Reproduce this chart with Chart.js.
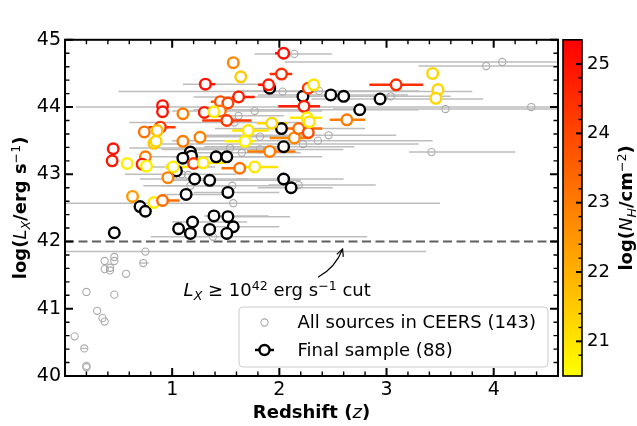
<!DOCTYPE html>
<html>
<head>
<meta charset="utf-8">
<script src="https://cdn.jsdelivr.net/npm/chart.js@4/dist/chart.umd.min.js"></script>
<style>
  html, body { margin: 0; padding: 0; background: #fff; }
  canvas { display: block; }
</style>
</head>
<body>
<canvas id="c" width="637" height="426"></canvas>
<script>
// ---- All X-ray sources in CEERS: redshift, log L_X, redshift error range ----
const allZ   = [0.09,0.18,0.20,0.20,0.20,0.30,0.35,0.37,0.37,0.37,0.42,0.42,0.46,0.46,0.46,0.57,0.73,0.75,
                1.38,1.57,1.17,1.56,2.18,1.09,1.15,0.98,1.65,3.42,1.82,1.54,2.22,2.36,1.82,2.46,1.58,1.62,1.77,
                3.55,4.35,3.04,2.03,2.37,3.93,4.08,2.14,
                1.21,1.35,2.04,2.11,1.52,1.13,2.04,2.02,1.39,1.52,1.19,1.57,2.48,2.94,2.75,1.51,1.41,1.31,1.62];
const allLx  = [40.59,40.41,40.13,40.15,41.25,40.97,40.86,40.81,41.71,41.59,41.61,41.57,41.77,41.71,41.21,41.52,41.68,41.85,
                42.07,42.57,42.83,42.83,42.84,43.00,42.99,43.11,43.32,43.33,43.37,43.39,43.45,43.50,43.56,43.58,43.77,43.87,43.94,
                43.97,44.00,44.16,44.23,44.24,44.61,44.67,44.79,
                42.93,42.91,42.93,42.80,42.73,42.70,43.41,43.68,42.38,42.37,42.29,42.22,44.18,44.12,43.96,43.26,43.26,44.34,44.15];
const allZLo = [null,0.15,null,null,null,null,null,null,null,null,null,null,null,null,null,null,0.70,0.01,
                0.80,0.00,0.90,0.73,1.90,0.56,null,0.70,1.20,3.21,0.90,0.60,0.90,1.00,1.30,1.20,0.60,1.26,1.00,
                2.50,0.10,2.20,0.50,1.60,3.30,2.05,1.77,
                0.70,1.00,1.60,1.80,1.20,0.90,1.30,1.40,1.30,1.40,1.00,1.30,1.80,2.30,1.20,1.00,0.80,1.10,1.20];
const allZHi = [null,0.21,null,null,null,null,null,null,null,null,null,null,null,null,null,null,0.78,3.37,
                2.82,3.50,1.60,2.20,2.90,1.60,null,1.40,2.20,4.20,2.60,2.00,3.30,3.43,2.30,3.09,2.30,2.04,2.40,
                4.60,4.60,3.60,3.80,3.30,4.60,4.60,2.49,
                1.70,2.20,2.60,2.50,2.00,1.50,2.70,2.80,1.90,2.10,1.70,2.00,3.20,3.90,3.30,2.40,1.90,1.88,2.20];

// ---- Final sample: redshift, log L_X, log N_H (null = no N_H), redshift error range ----
const finZ   = [2.04,1.57,1.64,1.31,2.02,1.90,2.27,2.32,2.23,3.09,2.63,1.62,1.45,1.52,1.45,1.30,1.39,1.51,0.91,0.91,
                1.10,0.89,0.74,0.86,0.83,0.85,1.10,1.26,0.45,0.44,0.58,0.75,0.72,0.76,1.20,1.01,1.29,0.96,0.63,0.83,
                0.91,1.63,1.77,1.71,1.68,1.91,2.14,2.18,2.27,2.26,2.28,1.93,3.43,3.48,3.46,
                0.46,1.06,1.19,1.17,1.35,1.39,1.52,1.57,1.51,1.17,1.18,1.10,1.41,1.51,1.21,1.35,1.13,1.52,2.04,2.11,
                2.04,2.02,1.91,2.22,2.48,2.60,2.94,2.75,1.04,0.70,0.75];
const finLx  = [44.80,44.66,44.45,44.34,44.49,44.33,44.28,44.33,44.01,44.33,43.81,44.15,44.08,44.06,43.94,43.92,43.93,43.80,44.02,43.93,
                43.90,43.70,43.63,43.65,43.46,43.49,43.49,43.55,43.38,43.20,43.16,43.26,43.15,43.12,43.16,43.11,43.17,42.95,42.67,42.58,
                42.61,43.09,43.11,43.65,43.49,43.34,43.54,43.68,43.62,43.84,43.78,43.76,44.50,44.26,44.13,
                42.13,42.19,42.29,42.12,42.18,42.38,42.37,42.22,42.12,43.33,43.27,43.24,43.26,43.26,42.93,42.91,42.70,42.73,42.93,42.80,
                43.41,43.68,44.28,44.16,44.18,44.16,44.12,43.96,43.05,42.52,42.45];
const finNH  = [25.1,22.8,21.5,25.0,24.5,24.8,24.2,21.0,24.8,24.5,23.0,24.8,23.8,24.0,23.3,24.9,20.9,24.3,25.0,25.0,
                23.0,24.3,23.2,21.7,21.6,21.3,23.0,22.9,25.0,24.9,20.8,23.0,24.7,20.8,24.2,20.9,20.9,22.9,22.4,20.9,
                23.3,23.2,21.0,21.0,20.8,23.0,22.8,23.3,23.9,20.9,21.0,21.3,21.3,21.3,21.3,
                null,null,null,null,null,null,null,null,null,null,null,null,null,null,null,null,null,null,null,null,
                null,null,null,null,null,null,null,null,null,null,null];
const finZLo = [1.96,null,null,1.25,1.91,1.80,null,null,1.99,2.84,2.47,1.56,1.36,null,null,null,1.30,1.28,null,null,
                null,0.78,null,null,null,null,null,null,null,null,null,null,null,null,null,0.93,1.24,null,null,null,
                0.86,1.46,1.68,1.56,1.49,1.70,1.91,2.08,null,2.10,null,1.79,null,null,null];
const finZHi = [2.10,null,null,1.40,2.12,1.95,null,null,2.38,3.34,2.80,1.77,1.52,null,null,null,1.45,1.74,null,null,
                null,1.03,null,null,null,null,null,null,null,null,null,null,null,null,null,1.15,1.50,null,null,null,
                1.07,1.68,1.99,1.90,1.77,2.15,2.29,2.40,null,2.40,null,2.08,null,null,null];

// ---- Axis ranges and labelled ticks ----
const zRange   = [0, 4.6];
const lxRange  = [40, 45];
const nhRange  = [20.5, 25.35];
const zLabels  = [1, 2, 3, 4];
const lxLabels = [40, 41, 42, 43, 44, 45];
const nhLabels = [21, 22, 23, 24, 25];
const lxCut = 42;

const FONT = '"DejaVu Sans", sans-serif';

// autumn_r colour map: yellow at the low end, red at the high end
function nhColor(v) {
  if (v === null || v === undefined) return '#000000';
  const t = Math.min(1, Math.max(0, (v - nhRange[0]) / (nhRange[1] - nhRange[0])));
  return `rgb(255,${Math.round(255 * (1 - t))},0)`;
}
const near = (v, list) => list.some(l => Math.abs(v - l) < 1e-6);
const isStep = v => Math.abs(v * 5 - Math.round(v * 5)) < 1e-6;

// sources without an N_H measurement are drawn first, the coloured ones over them
const finOrder = finZ.map((_, i) => i)
  .sort((a, b) => (finNH[a] === null ? 0 : 1) - (finNH[b] === null ? 0 : 1) || a - b);
const pick = arr => finOrder.map(i => (arr[i] === undefined ? null : arr[i]));

// Text made of runs with mixed weight/italic and sub/superscripts
function drawRich(ctx, runs, size, cx, cy, rot) {
  ctx.save();
  ctx.translate(cx, cy);
  if (rot) ctx.rotate(rot);
  let total = 0;
  const items = runs.map(r => {
    const s = r.pos ? size * 0.7 : size;
    const font = `${r.i ? 'italic ' : ''}${r.b ? 'bold ' : ''}${s}px ${FONT}`;
    ctx.font = font;
    const w = ctx.measureText(r.t).width;
    total += w;
    return { t: r.t, font, w, dy: r.pos === 'sub' ? size * 0.2 : r.pos === 'sup' ? -size * 0.38 : 0 };
  });
  let x = -total / 2;
  ctx.textAlign = 'left';
  ctx.textBaseline = 'alphabetic';
  ctx.fillStyle = '#000';
  for (const it of items) {
    ctx.font = it.font;
    ctx.fillText(it.t, x, size * 0.36 + it.dy);
    x += it.w;
  }
  ctx.restore();
}

// Horizontal redshift error bars, drawn under each dataset's markers
const errorBars = {
  id: 'errorBars',
  beforeDatasetDraw(chart, args) {
    const { ctx, chartArea: a, scales: { x, y } } = chart;
    const ds = chart.data.datasets[args.index];
    const lo = ds.zLo, hi = ds.zHi;
    ctx.save();
    ctx.beginPath();
    ctx.rect(a.left, a.top, a.right - a.left, a.bottom - a.top);
    ctx.clip();
    if (args.index === 1) {
      // luminosity cut
      ctx.strokeStyle = '#5f5f5f';
      ctx.lineWidth = 2;
      ctx.setLineDash([9, 4.5]);
      const py = y.getPixelForValue(lxCut);
      ctx.beginPath();
      ctx.moveTo(a.left, py);
      ctx.lineTo(a.right, py);
      ctx.stroke();
      ctx.setLineDash([]);
    }
    ds.data.forEach((p, i) => {
      if (lo[i] === null || lo[i] === undefined) return;
      const py = y.getPixelForValue(p.y);
      ctx.strokeStyle = ds.barColor ? ds.barColor : nhColor(ds.nh[i]);
      ctx.lineWidth = ds.barWidth;
      ctx.beginPath();
      ctx.moveTo(x.getPixelForValue(lo[i]), py);
      ctx.lineTo(x.getPixelForValue(hi[i]), py);
      ctx.stroke();
    });
    ctx.restore();
  }
};

// Frame, inward ticks, colour bar, titles, annotation and legend
const decorations = {
  id: 'decorations',
  afterDraw(chart) {
    const { ctx, chartArea: a, scales: { x, y, cb } } = chart;
    ctx.save();
    ctx.strokeStyle = '#000';
    ctx.lineCap = 'butt';

    // inward ticks on all four sides
    x.ticks.forEach(t => {
      if (!isStep(t.value)) return;
      const major = Math.abs(t.value - Math.round(t.value)) < 1e-6;
      const len = major ? 8 : 4.5;
      ctx.lineWidth = major ? 2 : 1.4;
      const px = x.getPixelForValue(t.value);
      ctx.beginPath();
      ctx.moveTo(px, a.bottom); ctx.lineTo(px, a.bottom - len);
      ctx.moveTo(px, a.top); ctx.lineTo(px, a.top + len);
      ctx.stroke();
    });
    y.ticks.forEach(t => {
      if (!isStep(t.value)) return;
      const major = Math.abs(t.value - Math.round(t.value)) < 1e-6;
      const len = major ? 8 : 4.5;
      ctx.lineWidth = major ? 2 : 1.4;
      const py = y.getPixelForValue(t.value);
      ctx.beginPath();
      ctx.moveTo(a.left, py); ctx.lineTo(a.left + len, py);
      ctx.moveTo(a.right, py); ctx.lineTo(a.right - len, py);
      ctx.stroke();
    });
    ctx.lineWidth = 2;
    ctx.strokeRect(a.left, a.top, a.right - a.left, a.bottom - a.top);

    // colour bar
    const cbL = a.right + 5, cbR = a.right + 24;
    const yTop = cb.getPixelForValue(nhRange[1]), yBot = cb.getPixelForValue(nhRange[0]);
    const g = ctx.createLinearGradient(0, yBot, 0, yTop);
    g.addColorStop(0, nhColor(nhRange[0]));
    g.addColorStop(1, nhColor(nhRange[1]));
    ctx.fillStyle = g;
    ctx.fillRect(cbL, yTop, cbR - cbL, yBot - yTop);
    cb.ticks.forEach(t => {
      if (!isStep(t.value) || t.value < nhRange[0] || t.value > nhRange[1]) return;
      const major = Math.abs(t.value - Math.round(t.value)) < 1e-6;
      ctx.lineWidth = major ? 2 : 1.4;
      const py = cb.getPixelForValue(t.value);
      ctx.beginPath();
      ctx.moveTo(cbR, py); ctx.lineTo(cbR - (major ? 6 : 3.5), py);
      ctx.stroke();
    });
    ctx.lineWidth = 1.6;
    ctx.strokeRect(cbL, yTop, cbR - cbL, yBot - yTop);

    // axis titles
    const midY = (a.top + a.bottom) / 2;
    drawRich(ctx, [{ t: 'Redshift (', b: true }, { t: 'z', i: true }, { t: ')', b: true }],
      18, (a.left + a.right) / 2, 411.5, 0);
    drawRich(ctx, [{ t: 'log(', b: true }, { t: 'L', i: true }, { t: 'X', i: true, pos: 'sub' },
      { t: '/erg s', b: true }, { t: '\u22121', pos: 'sup' }, { t: ')', b: true }],
      18, 20, midY, -Math.PI / 2);
    drawRich(ctx, [{ t: 'log(', b: true }, { t: 'N', i: true }, { t: 'H', i: true, pos: 'sub' },
      { t: '/cm', b: true }, { t: '\u22122', pos: 'sup' }, { t: ')', b: true }],
      18, 626, midY, -Math.PI / 2);

    // annotation of the luminosity cut
    drawRich(ctx, [{ t: 'L', i: true }, { t: 'X', i: true, pos: 'sub' }, { t: ' \u2265 10' },
      { t: '42', pos: 'sup' }, { t: ' erg s' }, { t: '\u22121', pos: 'sup' }, { t: ' cut' }],
      18, x.getPixelForValue(1.98), y.getPixelForValue(41.28), 0);
    const p0 = { x: x.getPixelForValue(2.36), y: y.getPixelForValue(41.47) };
    const p2 = { x: x.getPixelForValue(2.59), y: y.getPixelForValue(41.89) };
    const dx = p2.x - p0.x, dy = p2.y - p0.y, len = Math.hypot(dx, dy);
    const c = { x: (p0.x + p2.x) / 2 - dy / len * 7, y: (p0.y + p2.y) / 2 + dx / len * 7 };
    ctx.lineWidth = 1.2;
    ctx.beginPath();
    ctx.moveTo(p0.x, p0.y);
    ctx.quadraticCurveTo(c.x, c.y, p2.x, p2.y);
    ctx.stroke();
    const ang = Math.atan2(p2.y - c.y, p2.x - c.x);
    ctx.beginPath();
    ctx.moveTo(p2.x - 8 * Math.cos(ang - 0.45), p2.y - 8 * Math.sin(ang - 0.45));
    ctx.lineTo(p2.x, p2.y);
    ctx.lineTo(p2.x - 8 * Math.cos(ang + 0.45), p2.y - 8 * Math.sin(ang + 0.45));
    ctx.stroke();

    // legend
    const lx0 = a.right - 319, ly0 = a.bottom - 69, lw = 309, lh = 60;
    ctx.beginPath();
    ctx.roundRect(lx0, ly0, lw, lh, 4);
    ctx.fillStyle = 'rgba(255,255,255,0.8)';
    ctx.fill();
    ctx.strokeStyle = '#cccccc';
    ctx.lineWidth = 1;
    ctx.stroke();
    const hx = lx0 + 25.5, r1 = ly0 + 15.5, r2 = ly0 + 43;
    ctx.strokeStyle = '#aaaaaa';
    ctx.lineWidth = 1.1;
    ctx.beginPath(); ctx.arc(hx, r1, 3.6, 0, Math.PI * 2); ctx.stroke();
    ctx.strokeStyle = '#000';
    ctx.lineWidth = 2.4;
    ctx.beginPath(); ctx.moveTo(hx - 9.5, r2); ctx.lineTo(hx + 9.5, r2); ctx.stroke();
    ctx.fillStyle = '#fff';
    ctx.beginPath(); ctx.arc(hx, r2, 5, 0, Math.PI * 2); ctx.fill(); ctx.stroke();
    ctx.fillStyle = '#000';
    ctx.font = `18px ${FONT}`;
    ctx.textAlign = 'left';
    ctx.textBaseline = 'middle';
    ctx.fillText(chart.data.datasets[1].label, lx0 + 58.5, r1 + 1);
    ctx.fillText(chart.data.datasets[0].label, lx0 + 58.5, r2 + 1);
    ctx.restore();
  }
};

const tickFont = { family: FONT, size: 19 };
const finNHOrdered = pick(finNH);

new Chart(document.getElementById('c'), {
  type: 'scatter',
  data: {
    datasets: [
      {
        label: 'Final sample (88)',
        data: finOrder.map(i => ({ x: finZ[i], y: finLx[i] })),
        nh: finNHOrdered, zLo: pick(finZLo), zHi: pick(finZHi), barWidth: 2.5,
        pointRadius: 5.3,
        pointBorderWidth: 2.4,
        pointBackgroundColor: '#ffffff',
        pointBorderColor: finNHOrdered.map(nhColor),
        order: 1
      },
      {
        label: 'All sources in CEERS (143)',
        data: allZ.map((z, i) => ({ x: z, y: allLx[i] })),
        zLo: allZLo, zHi: allZHi, barWidth: 1.5, barColor: '#bdbdbd',
        pointRadius: 3.6,
        pointBorderWidth: 1.1,
        pointBackgroundColor: 'rgba(0,0,0,0)',
        pointBorderColor: '#aaaaaa',
        order: 2
      }
    ]
  },
  options: {
    responsive: false,
    animation: false,
    devicePixelRatio: 1,
    layout: { padding: { top: 12, left: 0, right: 0, bottom: 0 } },
    plugins: { legend: { display: false }, tooltip: { enabled: false } },
    scales: {
      x: {
        type: 'linear', min: zRange[0], max: zRange[1],
        grid: { display: false, drawTicks: false },
        border: { display: false },
        ticks: {
          stepSize: 0.2, autoSkip: false, maxRotation: 0, padding: 3,
          color: '#000', font: tickFont,
          callback: v => near(v, zLabels) ? String(Math.round(v)) : ''
        },
        afterFit: s => { s.height = 50; }
      },
      y: {
        type: 'linear', min: lxRange[0], max: lxRange[1],
        grid: { display: false, drawTicks: false },
        border: { display: false },
        ticks: {
          stepSize: 0.2, autoSkip: false, padding: 4,
          color: '#000', font: tickFont,
          callback: v => near(v, lxLabels) ? String(Math.round(v)) : ''
        },
        afterFit: s => { s.width = 65; }
      },
      cb: {
        type: 'linear', position: 'right', axis: 'y', min: nhRange[0], max: nhRange[1],
        grid: { display: false, drawTicks: false },
        border: { display: false },
        ticks: {
          stepSize: 0.2, autoSkip: false, padding: 29,
          color: '#000', font: { family: FONT, size: 18 },
          callback: v => near(v, nhLabels) ? String(Math.round(v)) : ''
        },
        afterFit: s => { s.width = 79; }
      }
    }
  },
  plugins: [errorBars, decorations]
});
</script>
</body>
</html>
